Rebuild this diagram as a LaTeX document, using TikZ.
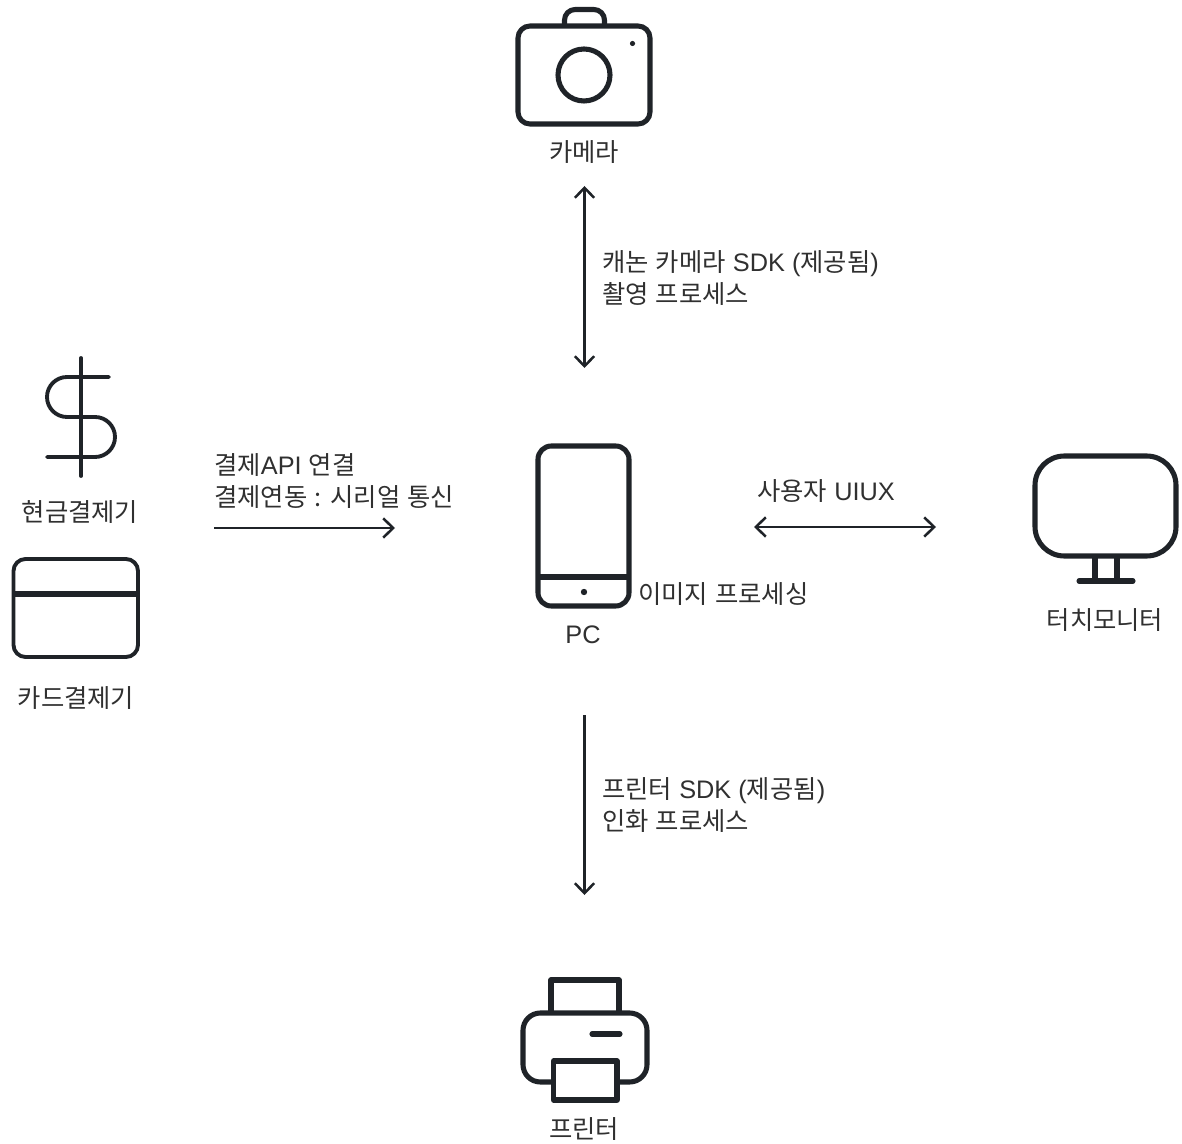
\documentclass[tikz,border=0pt]{standalone}
\usepackage{fontspec}
\setmainfont[WordSpace=1.25]{Noto Sans CJK KR}
\newfontfamily\latf{Liberation Sans}
\newcommand{\lat}[1]{{\latf #1}}
\usetikzlibrary{arrows.meta}
\definecolor{ink}{HTML}{1F2328}
\definecolor{txt}{HTML}{303030}
\tikzset{
  x=0.75pt,y=-0.75pt,
  icon/.style={draw=ink,line width=3.8pt,line join=round,fill=none},
  thinicon/.style={draw=ink,line width=2.9pt,line cap=round,line join=round},
  lab/.style={text=txt,inner sep=0pt,font=\fontsize{19pt}{23.6pt}\selectfont,align=left},
  conn/.style={draw=ink,line width=1.9pt},
  tipend/.style={-{Straight Barb[length=7.5pt,width=14.5pt,line width=1.9pt]}},
  tipboth/.style={{Straight Barb[length=7.5pt,width=14.5pt,line width=1.9pt]}-{Straight Barb[length=7.5pt,width=14.5pt,line width=1.9pt]}}
}
\begin{document}
\begin{tikzpicture}
\useasboundingbox (0,0) rectangle (1182,1144);
% camera
\draw[icon,rounded corners=9pt] (518,26) rectangle (650,124);
\draw[icon,rounded corners=8pt] (564.5,26) -- (564.5,9.5) -- (604.5,9.5) -- (604.5,26);
\draw[icon] (584,75) circle (26);
\fill[ink] (632.5,43.5) circle (2.6);
\node[lab,anchor=center] (camlab) at (584,152) {카메라};
% dollar
\draw[thinicon] (81,358) -- (81,476);
\draw[thinicon] (109,377) -- (67,377) arc[start angle=270,end angle=90,radius=20] -- (95,417) arc[start angle=-90,end angle=90,radius=20] -- (47,457);
\node[lab,anchor=center] (cashlab) at (80,512) {현금결제기};
% card
\draw[thinicon,rounded corners=9pt] (13.5,559) rectangle (138,657);
\draw[draw=ink,line width=3.8pt] (13.5,594) -- (138,594);
\node[lab,anchor=center] (cardlab) at (76,698) {카드결제기};
% PC
\draw[icon,rounded corners=10pt] (538,446) rectangle (629,606);
\draw[icon] (538,577) -- (629,577);
\fill[ink] (584,592) circle (3.2);
\node[lab,anchor=center] (pclab) at (583,635) {\lat{PC}};
\node[lab,anchor=west] (imglab) at (638,594) {이미지 프로세싱};
% monitor
\draw[icon,rounded corners=22pt] (1035,456) rectangle (1176,556);
\draw[icon] (1095,556) -- (1095,581);
\draw[icon] (1117,556) -- (1117,581);
\draw[icon,line cap=round] (1079,581) -- (1133,581);
\node[lab,anchor=center] (monlab) at (1105,620) {터치모니터};
% printer
\draw[icon] (551,1013) -- (551,980) -- (619,980) -- (619,1013);
\draw[icon,rounded corners=13pt] (553.5,1082) -- (523,1082) -- (523,1013) -- (647,1013) -- (647,1082) -- (617,1082);
\draw[icon] (553.5,1061) rectangle (617,1100);
\draw[icon,line cap=round] (592,1034) -- (620,1034);
\node[lab,anchor=center] (prnlab) at (584,1129) {프린터};
% connector ends
\coordinate (camtop) at (584.5,186);
\coordinate (pctop) at (584.5,368);
\coordinate (payfrom) at (214,528);
\coordinate (payto) at (395,528);
\coordinate (pcright) at (754,527);
\coordinate (monleft) at (936,527);
\coordinate (pcbot) at (584.5,715);
\coordinate (prntop) at (584.5,895);
\draw[conn,tipboth] (camtop) -- (pctop);
\draw[conn,tipend] (payfrom) -- (payto);
\draw[conn,tipboth] (pcright) -- (monleft);
\draw[conn,tipend] (pcbot) -- (prntop);
% connector labels
\node[lab,anchor=west] (camconn) at (602,278) {캐논 카메라 \lat{SDK (}제공됨\lat{)}\\촬영 프로세스};
\node[lab,anchor=west] (payconn) at (214,481) {결제\lat{API} 연결\\결제연동 : 시리얼 통신};
\node[lab,anchor=west] (uiconn) at (757,491) {사용자 \lat{UIUX}};
\node[lab,anchor=west] (prnconn) at (602,805) {프린터 \lat{SDK (}제공됨\lat{)}\\인화 프로세스};
\end{tikzpicture}
\end{document}
